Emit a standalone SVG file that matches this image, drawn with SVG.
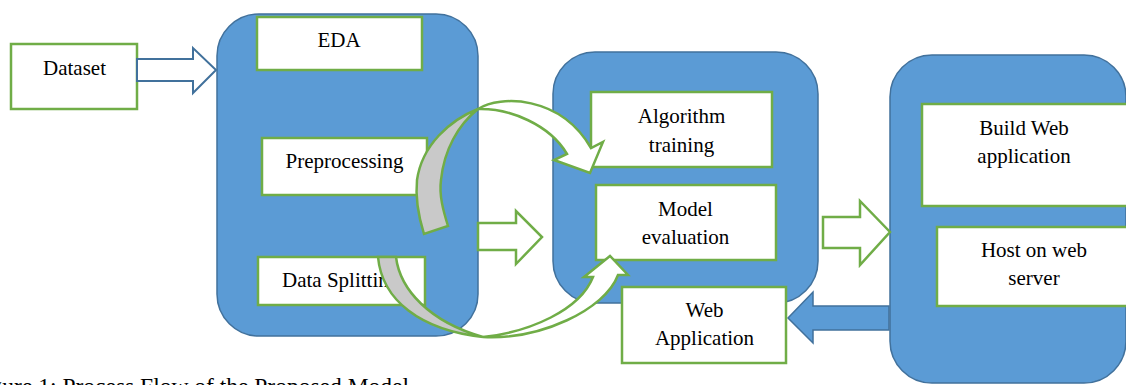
<svg xmlns="http://www.w3.org/2000/svg" width="1126" height="385" viewBox="0 0 1126 385">
<style>
.cont{fill:#5B9BD5;stroke:#41719C;stroke-width:1.5}
.box{fill:#FFFFFF;stroke:#70AD47;stroke-width:2.5}
.t{font-family:"Liberation Serif","Times New Roman",serif;font-size:21px;fill:#000;text-anchor:middle}
.garrow{fill:#FFFFFF;stroke:#70AD47;stroke-width:2.5;stroke-linejoin:miter}
.grey{fill:#C9C9C9;stroke:#70AD47;stroke-width:2.5}
.barrow{fill:#5B9BD5;stroke:#41719C;stroke-width:1.5}
.warrow{fill:#FFFFFF;stroke:#41719C;stroke-width:2}
.cap{font-family:"Liberation Serif","Times New Roman",serif;font-size:23.5px;fill:#000}
</style>
<rect width="1126" height="385" fill="#FFFFFF"/>
<g id="container-prep">
<rect class="cont" x="217" y="14" width="261" height="322" rx="42"/>
</g>
<g id="container-model">
<rect class="cont" x="553" y="52" width="265" height="251" rx="42"/>
</g>
<g id="container-deploy">
<rect class="cont" x="890" y="55" width="236" height="328" rx="42"/>
</g>
<g id="dataset">
<rect class="box" x="11" y="44" width="126" height="65"/>
<text class="t" x="74.5" y="75">Dataset</text>
</g>
<g id="eda">
<rect class="box" x="257" y="17" width="165" height="53"/>
<text class="t" x="339" y="47">EDA</text>
</g>
<g id="preprocessing">
<rect class="box" x="262" y="138" width="165" height="57"/>
<text class="t" x="344.5" y="168">Preprocessing</text>
</g>
<g id="data-splitting">
<rect class="box" x="258" y="257" width="167" height="48"/>
<text class="t" x="282" y="287" style="text-anchor:start">Data Splitting</text>
</g>
<g id="algorithm-training">
<rect class="box" x="591" y="92" width="181" height="75"/>
<text class="t" x="681.5" y="123">Algorithm</text>
<text class="t" x="681.5" y="152">training</text>
</g>
<g id="model-evaluation">
<rect class="box" x="596" y="185" width="180" height="75"/>
<text class="t" x="685.5" y="216">Model</text>
<text class="t" x="685.5" y="244">evaluation</text>
</g>
<g id="build-web">
<rect class="box" x="922" y="104" width="210" height="102"/>
<text class="t" x="1024" y="135">Build Web</text>
<text class="t" x="1024" y="163">application</text>
</g>
<g id="host">
<rect class="box" x="937" y="227" width="200" height="79"/>
<text class="t" x="1034" y="257">Host on web</text>
<text class="t" x="1034" y="285">server</text>
</g>
<g id="connectors">
<path class="warrow" d="M137,59 L193,59 L193,48 L216,70 L193,93 L193,81 L137,81 Z"/>
<path class="garrow" d="M478,223 L516,223 L516,211 L542,237 L516,264 L516,250 L478,250 Z"/>
<path class="garrow" d="M823,217 L860,217 L860,201 L890,232 L860,265 L860,248 L823,248 Z"/>
<path class="barrow" d="M889,306 L813,306 L813,292 L788,318 L813,343 L813,330 L889,330 Z"/>
<path class="grey" d="M478,109 C450,120 422,145 417,180 C415,200 419,218 424,234 L448,226 C443,210 439,195 441,180 C444,150 458,125 478,109 Z"/>
<path class="garrow" d="M478,109 C500,95 560,95 591,148 L603,142 L590,173 L554,160 L567,154 C550,125 510,108 478,109 Z"/>
<path class="grey" d="M378,257 L396,257 C400,290 430,322 483,337 C420,330 382,300 378,257 Z"/>
<path class="garrow" d="M483,337 C540,340 605,310 618,275 L628,275 L610,256 L584,277 L593,277 C580,310 530,332 483,337 Z"/>
</g>
<g id="web-application">
<rect class="box" x="622" y="287" width="164" height="76"/>
<text class="t" x="704.5" y="317">Web</text>
<text class="t" x="704.5" y="345">Application</text>
</g>
<text class="cap" x="-29" y="393.5">Figure 1: Process Flow of the Proposed Model</text>
</svg>
